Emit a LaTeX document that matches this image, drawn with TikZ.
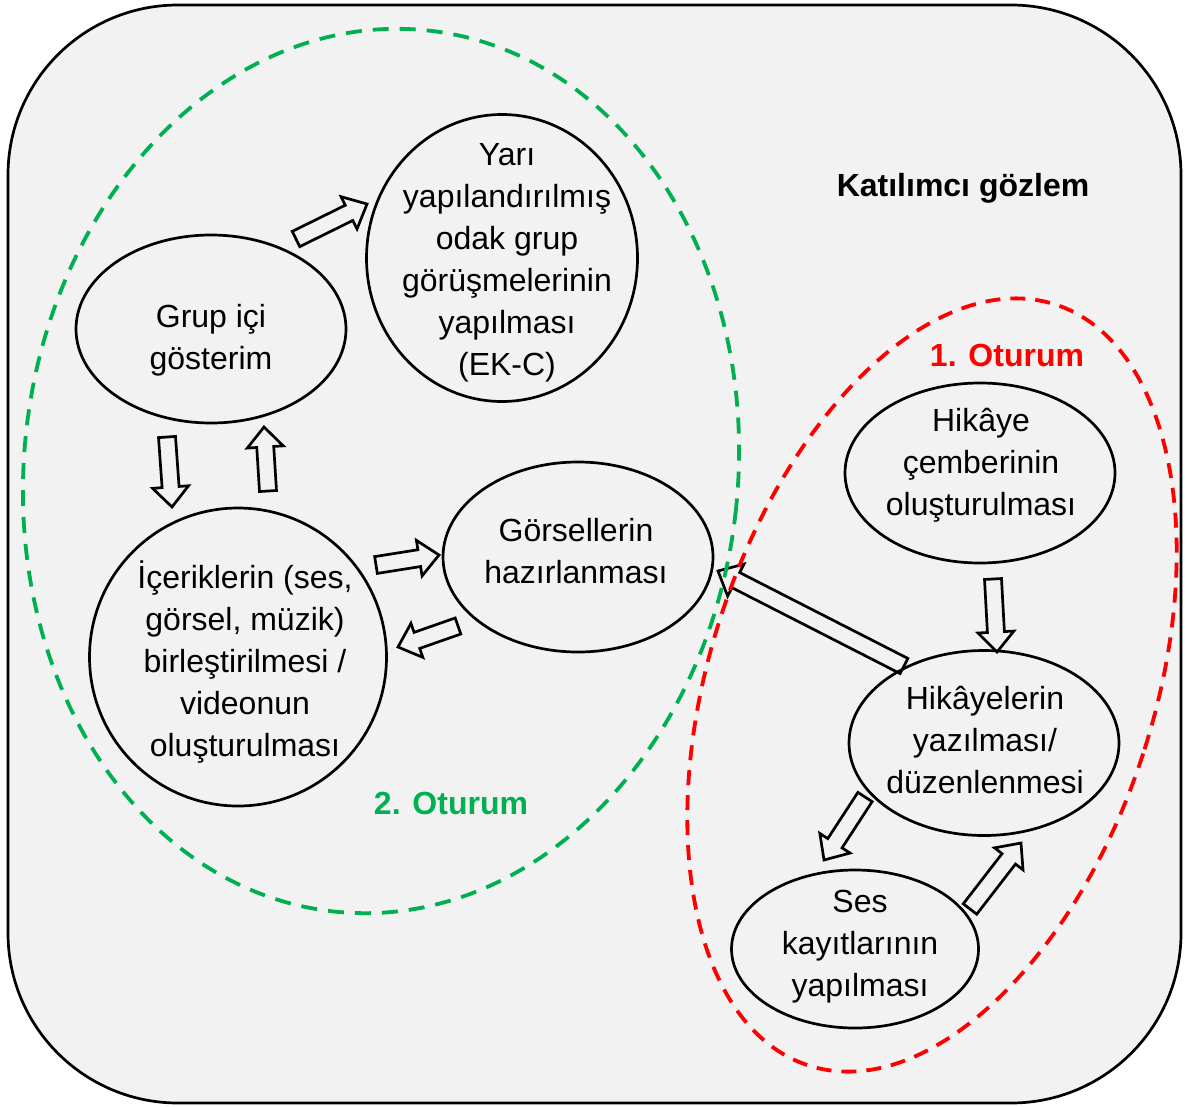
\documentclass[tikz,border=0pt]{standalone}
\usepackage{fontspec}
\setmainfont{Liberation Sans}
\usetikzlibrary{calc,shapes.geometric}
\definecolor{bg}{HTML}{F2F2F2}
\definecolor{ogreen}{HTML}{00B050}
\definecolor{ored}{HTML}{FF0000}
\newcommand{\blockarrow}[2]{%
  \path let \p1=(#1), \p2=(#2), \n1={atan2(\y2-\y1,\x2-\x1)}, \n2={veclen(\x2-\x1,\y2-\y1)} in
    \pgfextra{\xdef\baang{\n1}\xdef\balen{\n2}\xdef\bax{\x1}\xdef\bay{\y1}};
  \begin{scope}[shift={(\bax,\bay)}, rotate=\baang]
    \draw[barrow] (0,-8.5) -- (\balen-20,-8.5) -- (\balen-20,-18) -- (\balen,0)
      -- (\balen-20,18) -- (\balen-20,8.5) -- (0,8.5) -- cycle;
  \end{scope}}
\begin{document}
\begin{tikzpicture}[x=1pt,y=-1pt,
  ell/.style={draw, ellipse, line width=2.7pt, inner sep=0pt},
  txt/.style={align=center, font=\fontsize{32}{42}\selectfont, inner sep=0pt},
  ttl/.style={font=\fontsize{32}{42}\selectfont\bfseries, inner sep=0pt},
  barrow/.style={draw, line width=2.7pt, line join=miter},
  gdash/.style={draw=ogreen, line width=3.8pt, dash pattern=on 16pt off 11pt},
  rdash/.style={draw=ored, line width=3.8pt, dash pattern=on 15pt off 10pt}]
\useasboundingbox (0,0) rectangle (1185,1106);
\fill[white] (0,0) rectangle (1185,1106);
\draw[line width=2.7pt, fill=bg, rounded corners=170pt] (8,5) rectangle (1181,1103);

% ellipses
\node[ell, minimum width=270pt, minimum height=188pt] (grup) at (211,329) {};
\node[ell, minimum width=271pt, minimum height=287pt] (yari) at (502,258) {};
\node[ell, minimum width=297pt, minimum height=298pt] (icerik) at (238,657) {};
\node[ell, minimum width=270pt, minimum height=190pt] (gorsel) at (578,557) {};
\node[ell, minimum width=270pt, minimum height=180pt] (hcember) at (980,473) {};
\node[ell, minimum width=270pt, minimum height=185pt] (hyazma) at (984,743) {};
\node[ell, minimum width=247pt, minimum height=158pt] (ses) at (855,949) {};

% texts
\node[txt] (tgrup) at (211,340) {Grup içi\\gösterim};
\node[txt] (tyari) at (507,263) {Yarı\\yapılandırılmış\\odak grup\\görüşmelerinin\\yapılması\\(EK-C)};
\node[txt] (ticerik) at (245,662) {İçeriklerin (ses,\\görsel, müzik)\\birleştirilmesi /\\videonun\\oluşturulması};
\node[txt] (tgorsel) at (576,551) {Görsellerin\\hazırlanması};
\node[txt] (thcember) at (981,465) {Hikâye\\çemberinin\\oluşturulması};
\node[txt] (thyazma) at (985,740) {Hikâyelerin\\yazılması/\\düzenlenmesi};
\node[txt] (tses) at (860,947) {Ses\\kayıtlarının\\yapılması};

\node[ttl] (katilimci) at (963,188) {Katılımcı gözlem};
\node[ttl, text=ored] (otur1) at (1007,355) {1. Oturum};
\node[ttl, text=ogreen] (otur2) at (451,803) {2. Oturum};

% arrow end points
\coordinate (a1s) at (167,437); \coordinate (a1e) at (172,507);
\coordinate (a2s) at (268,491); \coordinate (a2e) at (264,427);
\coordinate (a3s) at (296,239); \coordinate (a3e) at (367,204);
\coordinate (a4s) at (376,565); \coordinate (a4e) at (439,555);
\coordinate (a5s) at (458,626); \coordinate (a5e) at (398,647);
\coordinate (a6s) at (904,666); \coordinate (a6e) at (718,571);
\coordinate (a7s) at (993,579); \coordinate (a7e) at (997,652);
\coordinate (a8s) at (865,797); \coordinate (a8e) at (824,860);
\coordinate (a9s) at (970,909); \coordinate (a9e) at (1021,843);

\blockarrow{a1s}{a1e}
\blockarrow{a2s}{a2e}
\blockarrow{a3s}{a3e}
\blockarrow{a4s}{a4e}
\blockarrow{a5s}{a5e}
\blockarrow{a6s}{a6e}
\blockarrow{a7s}{a7e}
\blockarrow{a8s}{a8e}
\blockarrow{a9s}{a9e}

% dashed session ellipses
\draw[gdash, rotate around={-6:(381,471)}] (381,471) ellipse [x radius=357, y radius=443];
\draw[rdash, rotate around={-18:(932,685)}] (932,685) ellipse [x radius=222, y radius=400];
\end{tikzpicture}
\end{document}
